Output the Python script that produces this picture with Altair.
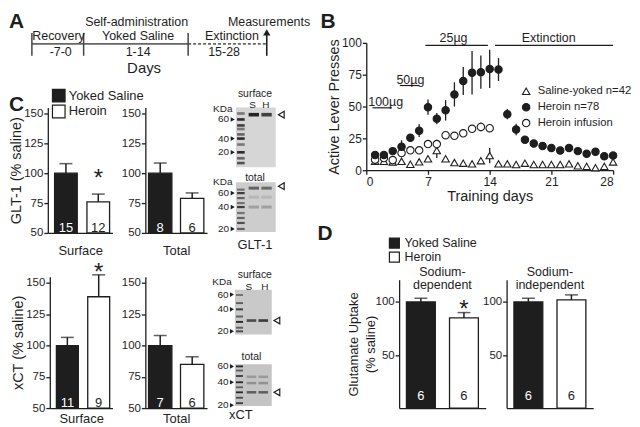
import altair as alt
import pandas as pd

FONT = "Liberation Sans"
INK = "#1e1e1e"
W, H = 624, 411  # one shared view; every panel gets its own scales placed in it

# ---------------- data ----------------
GROUPS = ["Yoked Saline", "Heroin"]
GROUP_FILLS = [INK, "#ffffff"]

# Panel A: protocol timeline (schematic day axis)
A_KEY_DAYS = [-7, 0, 14, 28]
A_TICK_DAYS = [-7, 0, 14]
A_SOLID_SPAN = [-7, 14]
A_DASHED_SPAN = [14, 28]
A_ARROW_DAY = [28]
A_LABELS = ["Self-administration", "Recovery", "Yoked Saline", "Extinction",
            "-7-0", "1-14", "15-28", "Measurements"]
A_LABEL_DAY = [7.1, -3.4, 7.3, 21.8, -3.1, 7.3, 20.4, 28.4]
A_LABEL_ROW = [9.8, 7.0, 7.0, 7.0, 3.7, 3.7, 3.7, 9.8]

# Panel B: lever presses
B_SERIES = ["Saline-yoked n=42", "Heroin n=78", "Heroin infusion"]
B_DAYS = list(range(1, 29))
B_HEROIN = [12, 12, 15, 18.5, 25.5, 31, 49.5, 40.5, 47, 59.5, 70, 76.5, 77, 79.5,
            79, 44, 32, 24, 21, 19, 17.5, 15.5, 17.5, 15, 13, 14.5, 11, 11.5]
B_HEROIN_SEM = [1.5, 1.5, 1.5, 5, 3, 5, 6, 4.5, 8, 9.5, 11, 17, 13, 15,
                9, 4, 4.5, 2, 1.5, 1.5, 1.5, 1.5, 1.5, 1.5, 1.5, 1.5, 1.5, 1.5]
B_INF_DAYS = list(range(1, 15))
B_INFUSION = [8.3, 9.5, 8, 13.5, 15.6, 15.6, 20.5, 20.5, 27.5, 27, 29, 32.5, 34, 33]
B_INFUSION_SEM = [1, 1, 1, 3, 1.5, 1.5, 2, 3.5, 2.5, 1.5, 1.5, 2.5, 3.5, 2]
B_SALINE = [7, 7, 6.5, 7, 4.7, 6.6, 9, 15.5, 9, 6, 5.5, 5, 7.5, 11.5,
            5, 5, 4.5, 5.5, 4.5, 4.5, 4.5, 4.5, 5, 3.5, 3, 2, 3, 6.5]
B_SALINE_SEM = [1, 1, 1, 1, 1, 1, 1.5, 6, 1, 1, 1, 1, 1.5, 6,
                1, 1, 1, 1, 1, 1, 1, 1, 1, 1, 1, 1, 1, 1.5]
B_DOSE_LABELS = ["100µg", "50µg", "25µg", "Extinction"]
B_DOSE_FROM = [0.7, 3.8, 6.7, 14.6]
B_DOSE_TO = [2.9, 6.0, 13.8, 28.0]
B_DOSE_LINE_Y = [49, 66.5, 98, 98]
B_DOSE_TEXT_X = [2.2, 5.0, 9.9, 20.7]
B_DOSE_TEXT_Y = [53.5, 71, 104, 103.5]

# Panel C: GLT-1 and xCT protein (% saline)
GLT_SURF_MEAN, GLT_SURF_SEM, GLT_SURF_N = [100, 76], [8, 6.5], [15, 12]
GLT_TOT_MEAN, GLT_TOT_SEM, GLT_TOT_N = [100, 79], [8.5, 4.5], [8, 6]
XCT_SURF_MEAN, XCT_SURF_SEM, XCT_SURF_N = [100, 139], [6.5, 17.5], [11, 9]
XCT_TOT_MEAN, XCT_TOT_SEM, XCT_TOT_N = [100, 85], [8, 6], [7, 6]
C_TICKS = [50, 75, 100, 125, 150]

# Panel D: glutamate uptake (% saline)
NA_DEP_MEAN, NA_DEP_SEM, NA_DEP_N = [100, 85], [3.5, 5], [6, 6]
NA_IND_MEAN, NA_IND_SEM, NA_IND_N = [100, 102], [3.5, 4.7], [6, 6]
D_TICKS = [50, 100]
D_TITLE_DEP = "Sodium-\ndependent"
D_TITLE_IND = "Sodium-\nindependent"
D_TITLE_AT = 128

# Western blots (band positions as fraction of blot height, top = 0)
KDA_LABELS = ["60", "40", "20"]
GLT_S_LADDER = [0.1, 0.2, 0.3, 0.36, 0.45, 0.52, 0.62, 0.75, 0.85, 0.93]
GLT_S_LADDER_SHADE = [0.5, 0.9, 0.8, 0.5, 0.6, 0.9, 0.5, 0.9, 0.6, 0.7]
GLT_S_BAND_Y, GLT_S_BAND_S, GLT_S_BAND_H = [0.12], [0.95], [0.8]
GLT_S_MARK_Y = [0.2, 0.52, 0.75]
GLT_T_LADDER = [0.15, 0.22, 0.32, 0.42, 0.5, 0.62, 0.72, 0.82, 0.94]
GLT_T_LADDER_SHADE = [0.5, 0.8, 0.6, 0.5, 0.8, 0.5, 0.6, 0.7, 0.6]
GLT_T_BAND_Y, GLT_T_BAND_S, GLT_T_BAND_H = [0.12, 0.5, 0.3], [0.6, 0.25, 0.12], [0.55, 0.25, 0.12]
GLT_T_MARK_Y = [0.22, 0.5, 0.94]
XCT_S_LADDER = [0.12, 0.3, 0.44, 0.6, 0.72, 0.85, 0.93]
XCT_S_LADDER_SHADE = [0.5, 0.6, 0.8, 0.6, 0.9, 0.6, 0.7]
XCT_S_BAND_Y, XCT_S_BAND_S, XCT_S_BAND_H = [0.69], [0.7], [0.8]
XCT_S_MARK_Y = [0.11, 0.44, 0.93]
XCT_T_LADDER = [0.05, 0.15, 0.28, 0.43, 0.55, 0.67, 0.8, 0.93]
XCT_T_LADDER_SHADE = [0.9, 0.6, 0.8, 0.9, 0.6, 0.9, 0.7, 0.8]
XCT_T_BAND_Y, XCT_T_BAND_S, XCT_T_BAND_H = [0.3, 0.45, 0.67], [0.25, 0.3, 0.6], [0.25, 0.3, 0.6]
XCT_T_MARK_Y = [0.05, 0.43, 0.98]


# ---------------- helpers ----------------
def letter(t, x, y):
    return alt.Chart(pd.DataFrame({"t": [t]})).mark_text(
        fontSize=21, fontWeight="bold", align="left", baseline="top", color=INK
    ).encode(text="t:N", x=alt.value(x), y=alt.value(y))


def bar_panel(means, sems, ns, xr, yr, ydomain, yticks, ytitle, xtitle, xtitle_pad,
              star_y, nlab_y, legend, p_in, p_out, align, nsize=13,
              ytitle_size=14.5, ytitle_pad=0, title=None):
    df = pd.DataFrame({"group": GROUPS, "mean": means, "sem": sems,
                       "n": [str(v) for v in ns]})
    df["top"] = df["mean"] + df["sem"]
    df["base"] = ydomain[0]
    df["nlab"] = nlab_y
    xs = alt.Scale(domain=GROUPS, range=xr, paddingInner=p_in, paddingOuter=p_out, align=align)
    xa = alt.Axis(orient="bottom", offset=yr[0] - H, labels=False, ticks=False, domain=True,
                  title=xtitle, titleFontSize=13, titlePadding=xtitle_pad)
    ys = alt.Scale(domain=ydomain, range=yr, nice=False, zero=False)
    ya = alt.Axis(orient="left", offset=-xr[0], values=yticks, title=ytitle,
                  titleFontSize=ytitle_size, titlePadding=ytitle_pad, labelFontSize=11.5,
                  tickSize=4, labelPadding=1, titleLineHeight=17)

    def X():
        return alt.X("group:N", scale=xs, axis=xa, sort=GROUPS)

    def Y(f):
        return alt.Y(f, scale=ys, axis=ya)

    base = alt.Chart(df)
    bars = base.mark_bar(stroke=INK, strokeWidth=1.3).encode(
        x=X(), y=Y("mean:Q"), y2="base:Q",
        fill=alt.Fill("group:N", scale=alt.Scale(domain=GROUPS, range=GROUP_FILLS),
                      legend=legend))
    err = base.mark_rule(color=INK, strokeWidth=1.5).encode(x=X(), y=Y("mean:Q"), y2="top:Q")
    cap = base.mark_tick(orient="horizontal", size=13, thickness=1.5, color=INK).encode(
        x=X(), y=Y("top:Q"))
    nl = base.mark_text(fontSize=nsize, baseline="middle").encode(
        x=X(), y=Y("nlab:Q"), text="n:N",
        color=alt.when(alt.datum.group == "Yoked Saline").then(alt.value("white"))
        .otherwise(alt.value(INK)))
    layers = [bars, err, cap, nl]
    if star_y is not None:
        sdf = pd.DataFrame({"group": ["Heroin"], "sy": [star_y], "s": ["*"]})
        layers.append(alt.Chart(sdf).mark_text(fontSize=24, baseline="alphabetic", dy=13,
                                               color=INK).encode(x=X(), y=Y("sy:Q"), text="s:N"))
    if title is not None:
        tdf = pd.DataFrame({"t": [title], "ty": [D_TITLE_AT]})
        layers.append(alt.Chart(tdf).mark_text(fontSize=12.5, baseline="middle", color=INK,
                                               lineBreak="\n", lineHeight=13)
                      .encode(x=alt.value((xr[0] + xr[1]) / 2), y=Y("ty:Q"), text="t:N"))
    return alt.layer(*layers)


def blot(xr, yr, bg, ladder, ladder_shade, band_y, band_s, band_h, mark_y, arrow_y,
         texts, text_x, text_y, text_size):
    xs = alt.Scale(domain=[0, 1], range=xr, nice=False, zero=False)
    ys = alt.Scale(domain=[0, 1], range=yr, nice=False, zero=False)

    def X(f):
        return alt.X(f, scale=xs, axis=None)

    def Y(f):
        return alt.Y(f, scale=ys, axis=None)

    bgd = pd.DataFrame({"x0": [0.0], "x1": [1.0], "y0": [0.0], "y1": [1.0]})
    layers = [alt.Chart(bgd).mark_rect(color=bg).encode(
        x=X("x0:Q"), x2="x1:Q", y=Y("y0:Q"), y2="y1:Q")]
    lad = pd.DataFrame({"y": ladder, "a": ladder_shade})
    lad["y0"], lad["y1"] = lad["y"] - 0.022, lad["y"] + 0.022
    lad["x0"], lad["x1"] = 0.03, 0.22
    layers.append(alt.Chart(lad).mark_rect(color="#1a1a1a").encode(
        x=X("x0:Q"), x2="x1:Q", y=Y("y0:Q"), y2="y1:Q",
        opacity=alt.Opacity("a:Q", scale=None)))
    rows = []
    for y, s, hh in zip(band_y, band_s, band_h):
        rows.append({"y": y, "a": s, "x0": 0.32, "x1": 0.58})
        rows.append({"y": y, "a": hh, "x0": 0.64, "x1": 0.9})
    bd = pd.DataFrame(rows)
    bd["y0"], bd["y1"] = bd["y"] - 0.03, bd["y"] + 0.03
    layers.append(alt.Chart(bd).mark_rect(color="#1a1a1a").encode(
        x=X("x0:Q"), x2="x1:Q", y=Y("y0:Q"), y2="y1:Q",
        opacity=alt.Opacity("a:Q", scale=None)))
    mk = pd.DataFrame({"k": KDA_LABELS, "y": mark_y})
    mk["tx"], mk["px"] = -0.17, -0.08
    layers.append(alt.Chart(mk).mark_text(fontSize=10, align="right", baseline="middle",
                                          color=INK).encode(x=X("tx:Q"), y=Y("y:Q"), text="k:N"))
    layers.append(alt.Chart(mk).mark_point(shape="triangle-right", filled=True, size=22,
                                           color=INK, opacity=1).encode(x=X("px:Q"), y=Y("y:Q")))
    ar = pd.DataFrame({"x": [1.14], "y": [arrow_y]})
    layers.append(alt.Chart(ar).mark_point(shape="triangle-left", filled=False, size=45,
                                           color=INK, strokeWidth=1.2, opacity=1).encode(
        x=X("x:Q"), y=Y("y:Q")))
    tx = pd.DataFrame({"t": texts, "x": text_x, "y": text_y, "s": text_size})
    for s in sorted(set(text_size)):
        layers.append(alt.Chart(tx[tx["s"] == s]).mark_text(fontSize=s, baseline="middle",
                                                            color=INK).encode(
            x=X("x:Q"), y=Y("y:Q"), text="t:N"))
    return alt.layer(*layers)


# ---------------- Panel A ----------------
axs = alt.Scale(domain=A_KEY_DAYS, range=[23, 75, 180, 259])
ays = alt.Scale(domain=[0, 11], range=[62, 7], nice=False, zero=False)


def AX(f):
    return alt.X(f, scale=axs, axis=None)


def AY(f):
    return alt.Y(f, scale=ays, axis=None)


a_solid = alt.Chart(pd.DataFrame({"d0": [A_SOLID_SPAN[0]], "d1": [A_SOLID_SPAN[1]], "r": [5.4]})) \
    .mark_rule(color="#666", strokeWidth=1.6).encode(x=AX("d0:Q"), x2="d1:Q", y=AY("r:Q"))
a_dash = alt.Chart(pd.DataFrame({"d0": [A_DASHED_SPAN[0]], "d1": [A_DASHED_SPAN[1]], "r": [5.4]})) \
    .mark_rule(color="#666", strokeWidth=1.6, strokeDash=[3, 2]).encode(x=AX("d0:Q"), x2="d1:Q", y=AY("r:Q"))
a_ticks = alt.Chart(pd.DataFrame({"d": A_TICK_DAYS, "lo": 3.0, "hi": 7.6})) \
    .mark_rule(color="#444", strokeWidth=1.5).encode(x=AX("d:Q"), y=AY("lo:Q"), y2="hi:Q")
a_arrow = alt.Chart(pd.DataFrame({"d": A_ARROW_DAY, "lo": [3.0], "hi": [7.3]})) \
    .mark_rule(color=INK, strokeWidth=1.6).encode(x=AX("d:Q"), y=AY("lo:Q"), y2="hi:Q")
a_head = alt.Chart(pd.DataFrame({"d": A_ARROW_DAY, "r": [7.7]})) \
    .mark_point(shape="triangle-up", filled=True, size=55, color=INK, opacity=1) \
    .encode(x=AX("d:Q"), y=AY("r:Q"))
a_text = alt.Chart(pd.DataFrame({"t": A_LABELS, "d": A_LABEL_DAY, "r": A_LABEL_ROW})) \
    .mark_text(fontSize=12.5, color=INK).encode(x=AX("d:Q"), y=AY("r:Q"), text="t:N")
a_days = alt.Chart(pd.DataFrame({"t": ["Days"], "d": [8.1], "r": [0.5]})) \
    .mark_text(fontSize=15, color=INK).encode(x=AX("d:Q"), y=AY("r:Q"), text="t:N")
panel_a = alt.layer(a_solid, a_dash, a_ticks, a_arrow, a_head, a_text, a_days)

# ---------------- Panel B ----------------
rows = []
for name, days, vals, sems in [(B_SERIES[0], B_DAYS, B_SALINE, B_SALINE_SEM),
                               (B_SERIES[2], B_INF_DAYS, B_INFUSION, B_INFUSION_SEM),
                               (B_SERIES[1], B_DAYS, B_HEROIN, B_HEROIN_SEM)]:
    for d, v, e in zip(days, vals, sems):
        rows.append({"series": name, "day": d, "v": v, "lo": v - e, "hi": v + e})
dfB = pd.DataFrame(rows)
B_XR, B_YR = [359, 607], [162, 34]
bxs = alt.Scale(domain=[0, 28], range=B_XR, nice=False, zero=False)
bys = alt.Scale(domain=[0, 100], range=B_YR, nice=False, zero=False)
bxa = alt.Axis(orient="bottom", offset=B_YR[0] - H, values=[0, 7, 14, 21, 28],
               title="Training days", titleFontSize=14.5, labelFontSize=12, tickSize=4,
               labelPadding=2, titlePadding=2)
bya = alt.Axis(orient="left", offset=-B_XR[0], values=[0, 25, 50, 75, 100],
               title="Active Lever Presses", titleFontSize=14.5, labelFontSize=12, tickSize=4,
               labelPadding=1, titlePadding=0)


def BX(f):
    return alt.X(f, scale=bxs, axis=bxa)


def BY(f):
    return alt.Y(f, scale=bys, axis=bya)


legB = alt.Legend(orient="none", legendX=514, legendY=77, title=None, labelFontSize=11.3,
                  symbolSize=55, symbolStrokeColor=INK, symbolStrokeWidth=1.1, rowPadding=3,
                  labelOffset=6, padding=0, labelColor=INK)
series_scale_fill = alt.Scale(domain=B_SERIES, range=["#ffffff", INK, "#ffffff"])
series_scale_shape = alt.Scale(domain=B_SERIES, range=["triangle-up", "circle", "circle"])
series_scale_stroke = alt.Scale(domain=B_SERIES, range=[INK, INK, INK])
b_err = alt.Chart(dfB).mark_rule(color=INK, strokeWidth=1.3).encode(
    x=BX("day:Q"), y=BY("lo:Q"), y2="hi:Q")
b_pts = alt.Chart(dfB).mark_point(filled=True, size=55, strokeWidth=1.1, opacity=1).encode(
    x=BX("day:Q"), y=BY("v:Q"),
    fill=alt.Fill("series:N", scale=series_scale_fill, legend=legB),
    shape=alt.Shape("series:N", scale=series_scale_shape, legend=legB),
    stroke=alt.Stroke("series:N", scale=series_scale_stroke, legend=legB))
dfDose = pd.DataFrame({"lab": B_DOSE_LABELS, "x0": B_DOSE_FROM, "x1": B_DOSE_TO,
                       "ly": B_DOSE_LINE_Y, "tx": B_DOSE_TEXT_X, "ty": B_DOSE_TEXT_Y})
b_dl = alt.Chart(dfDose).mark_rule(color=INK, strokeWidth=1.2).encode(
    x=BX("x0:Q"), x2="x1:Q", y=BY("ly:Q"))
b_dt = alt.Chart(dfDose).mark_text(fontSize=12.5, color=INK, baseline="middle").encode(
    x=BX("tx:Q"), y=BY("ty:Q"), text="lab:N")
panel_b = alt.layer(b_dl, b_dt, b_err, b_pts)

# ---------------- Panel C ----------------
legC = alt.Legend(orient="none", legendX=43, legendY=80, title=None, symbolType="square",
                  symbolSize=160, symbolStrokeColor=INK, symbolStrokeWidth=1.2,
                  labelFontSize=13, labelColor=INK, rowPadding=-9, labelOffset=3, padding=0)
GLT_Y, XCT_Y = [225, 99], [401, 269]
glt_surf = bar_panel(GLT_SURF_MEAN, GLT_SURF_SEM, GLT_SURF_N, [39, 104], GLT_Y, [50, 155],
                     C_TICKS, "GLT-1 (% saline)", "Surface", 12, 100.5, 54, legC, 0.3, 0.15, 0.7)
glt_tot = bar_panel(GLT_TOT_MEAN, GLT_TOT_SEM, GLT_TOT_N, [137, 199], GLT_Y, [50, 155],
                    C_TICKS, None, "Total", 12, None, 54, None, 0.27, 0.1, 0.5)
xct_surf = bar_panel(XCT_SURF_MEAN, XCT_SURF_SEM, XCT_SURF_N, [41, 104], XCT_Y, [50, 155],
                     C_TICKS, "xCT (% saline)", "Surface", 4, 163, 54, None, 0.3, 0.15, 0.7)
xct_tot = bar_panel(XCT_TOT_MEAN, XCT_TOT_SEM, XCT_TOT_N, [137, 199], XCT_Y, [50, 155],
                    C_TICKS, None, "Total", 4, None, 54, None, 0.27, 0.1, 0.5)

blot_glt_s = blot([228, 268], [99, 159], "#d6d6d6", GLT_S_LADDER, GLT_S_LADDER_SHADE,
                  GLT_S_BAND_Y, GLT_S_BAND_S, GLT_S_BAND_H, GLT_S_MARK_Y, 0.12,
                  ["surface", "S", "H", "KDa"], [0.48, 0.42, 0.75, -0.33],
                  [-0.23, -0.05, -0.05, 0.02], [10.5, 10, 10, 10])
blot_glt_t = blot([228, 268], [174, 224], "#cdcdcd", GLT_T_LADDER, GLT_T_LADDER_SHADE,
                  GLT_T_BAND_Y, GLT_T_BAND_S, GLT_T_BAND_H, GLT_T_MARK_Y, 0.08,
                  ["total", "KDa", "GLT-1"], [0.48, -0.33, 0.48],
                  [-0.09, -0.01, 1.26], [10.5, 10, 13])
blot_xct_s = blot([227, 264], [282, 327], "#c9c9c9", XCT_S_LADDER, XCT_S_LADDER_SHADE,
                  XCT_S_BAND_Y, XCT_S_BAND_S, XCT_S_BAND_H, XCT_S_MARK_Y, 0.69,
                  ["surface", "S", "H", "KDa"], [0.54, 0.38, 0.81, -0.35],
                  [-0.33, -0.07, -0.07, -0.16], [10.5, 10, 10, 10])
blot_xct_t = blot([227, 264], [357, 399], "#c4c4c4", XCT_T_LADDER, XCT_T_LADDER_SHADE,
                  XCT_T_BAND_Y, XCT_T_BAND_S, XCT_T_BAND_H, XCT_T_MARK_Y, 0.67,
                  ["total", "xCT"], [0.45, 0.16], [-0.17, 1.22], [10.5, 13])

# ---------------- Panel D ----------------
legD = alt.Legend(orient="none", legendX=381, legendY=229, title=None, symbolType="square",
                  symbolSize=100, symbolStrokeColor=INK, symbolStrokeWidth=1.2,
                  labelFontSize=12.5, labelColor=INK, rowPadding=-2.5, labelOffset=4, padding=0)
D_Y = [401, 272]
d_dep = bar_panel(NA_DEP_MEAN, NA_DEP_SEM, NA_DEP_N, [392, 479], D_Y, [0, 121], D_TICKS,
                  ["Glutamate Uptake", "(% saline)"], None, 0, 98, 11, legD, 0.33, 0.17, 0.5,
                  ytitle_size=13, ytitle_pad=-2, title=D_TITLE_DEP)
d_ind = bar_panel(NA_IND_MEAN, NA_IND_SEM, NA_IND_N, [500, 587], D_Y, [0, 121], D_TICKS,
                  None, None, 0, None, 11, None, 0.33, 0.17, 0.5, title=D_TITLE_IND)

# ---------------- assemble ----------------
chart = alt.layer(
    panel_a, panel_b, glt_surf, glt_tot, xct_surf, xct_tot,
    blot_glt_s, blot_glt_t, blot_xct_s, blot_xct_t, d_dep, d_ind,
    letter("A", 0, 2), letter("B", 313, 2), letter("C", 0, 85), letter("D", 310, 215)
).resolve_scale(
    x="independent", y="independent", fill="independent", shape="independent",
    stroke="independent"
).properties(width=W, height=H, padding=0)

chart = chart.configure(font=FONT).configure_axis(
    domainColor=INK, tickColor=INK, labelColor=INK, titleColor=INK, grid=False,
    domainWidth=1.3, tickWidth=1.3, titleFontWeight="normal", labelFont=FONT, titleFont=FONT
).configure_view(stroke=None).configure_legend(labelFont=FONT)

chart.save("out.html", embed_options={"renderer": "svg", "actions": False})
